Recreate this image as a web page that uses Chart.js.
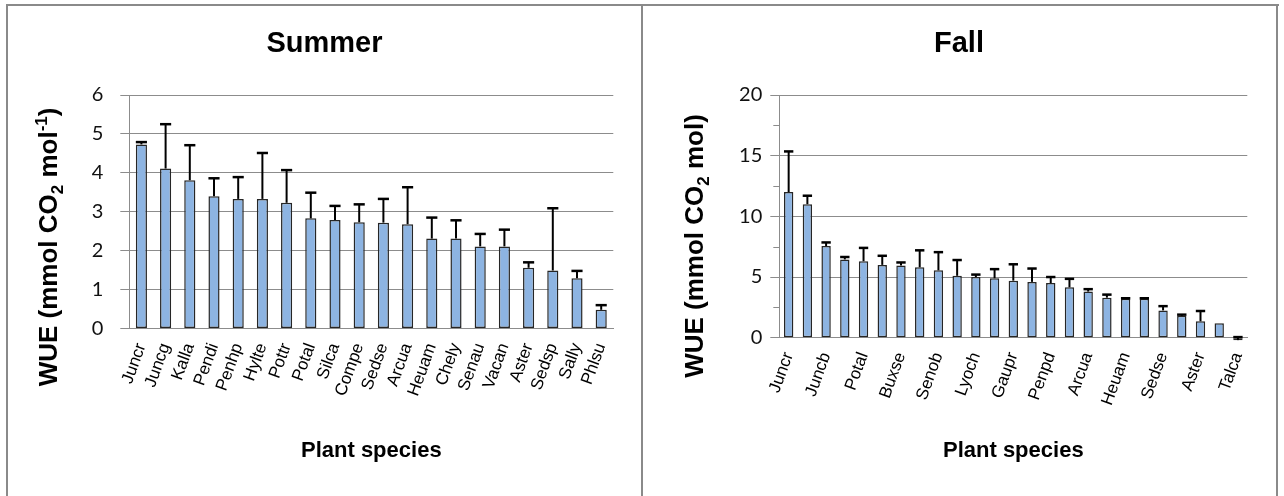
<!DOCTYPE html>
<html>
<head>
<meta charset="utf-8">
<script src="https://cdn.jsdelivr.net/npm/chart.js@4.4.1/dist/chart.umd.min.js"></script>
<style>
  html, body { margin: 0; padding: 0; background: #fff; }
  body { width: 1284px; height: 496px; position: relative; overflow: hidden; }
  .rule { position: absolute; background: #8a8a8a; }
  canvas { position: absolute; }
</style>
</head>
<body>
<div class="rule" style="left:6px;top:4px;width:1273px;height:2px"></div>
<div class="rule" style="left:6px;top:4px;width:2px;height:492px"></div>
<div class="rule" style="left:641px;top:4px;width:2px;height:492px"></div>
<div class="rule" style="left:1276px;top:4px;width:2px;height:492px"></div>
<canvas id="summer" width="633" height="490" style="left:8px;top:6px"></canvas>
<canvas id="fall" width="632" height="490" style="left:643px;top:6px"></canvas>
<script>
// Water-use efficiency per plant species, mean and upper error
const summerSpecies = ['Juncr','Juncg','Kalla','Pendi','Penhp','Hylte','Pottr','Potal','Silca','Compe',
                       'Sedse','Arcua','Heuam','Chely','Senau','Vacan','Aster','Sedsp','Sally','Phlsu'];
const summerWUE = [4.73, 4.11, 3.81, 3.40, 3.33, 3.33, 3.23, 2.83, 2.79, 2.73,
                   2.72, 2.68, 2.31, 2.31, 2.11, 2.11, 1.56, 1.49, 1.29, 0.48];
const summerErr = [0.06, 1.14, 0.90, 0.46, 0.56, 1.18, 0.84, 0.66, 0.36, 0.46,
                   0.61, 0.95, 0.54, 0.47, 0.32, 0.43, 0.14, 1.60, 0.19, 0.12];

// Fall: only every other species name is printed on the axis
const fallSpecies = ['Juncr','','Juncb','','Potal','','Buxse','','Senob','','Lyoch','','Gaupr','',
                     'Penpd','','Arcua','','Heuam','','Sedse','','Aster','','Talca'];
const fallWUE = [12.0, 11.0, 7.55, 6.45, 6.3, 6.0, 5.95, 5.8, 5.55, 5.1, 5.0, 4.9, 4.7,
                 4.6, 4.5, 4.15, 3.8, 3.3, 3.2, 3.2, 2.25, 1.8, 1.35, 1.2, -0.2];
const fallErr = [3.35, 0.7, 0.3, 0.2, 1.1, 0.75, 0.25, 1.4, 1.5, 1.3, 0.2, 0.75, 1.35,
                 1.1, 0.5, 0.7, 0.2, 0.25, 0.05, 0.05, 0.35, 0.1, 0.85, 0, 0.25];

const summerTicks = [0, 1, 2, 3, 4, 5, 6];
const fallTicks = [0, 5, 10, 15, 20];

const GRID = '#8c8c8c';
const BAR_FILL = '#8db4e2';
const BAR_EDGE = '#262626';

// Upward error bars with a cap as wide as the bar
const errorBars = {
  id: 'errorBars',
  afterDatasetsDraw(chart, args, opts) {
    const meta = chart.getDatasetMeta(0);
    const ys = chart.scales.y;
    const data = chart.data.datasets[0].data;
    const ctx = chart.ctx;
    ctx.save();
    ctx.strokeStyle = '#000';
    meta.data.forEach((bar, i) => {
      const e = opts.err[i];
      if (!e) return;
      const top = ys.getPixelForValue(data[i] + e);
      const half = bar.width / 2;
      ctx.lineWidth = 2;
      ctx.beginPath();
      ctx.moveTo(bar.x, bar.y);
      ctx.lineTo(bar.x, top);
      ctx.stroke();
      ctx.lineWidth = 2.5;
      ctx.beginPath();
      ctx.moveTo(bar.x - half, top);
      ctx.lineTo(bar.x + half, top);
      ctx.stroke();
    });
    ctx.restore();
  }
};

// Minor tick marks between labelled values
const minorTicks = {
  id: 'minorTicks',
  afterDraw(chart, args, opts) {
    if (!opts.step) return;
    const ys = chart.scales.y;
    const ctx = chart.ctx;
    const x = chart.chartArea.left;
    ctx.save();
    ctx.strokeStyle = GRID;
    ctx.lineWidth = 1;
    for (let v = ys.min + opts.step; v < ys.max; v += opts.step * 2) {
      const y = Math.round(ys.getPixelForValue(v)) + 0.5;
      ctx.beginPath();
      ctx.moveTo(x - opts.len, y);
      ctx.lineTo(x, y);
      ctx.stroke();
    }
    ctx.restore();
  }
};

// Draw a run of text pieces (with sub/superscripts) centred on (0,0)
function drawRich(ctx, pieces, size, family) {
  const parts = pieces.map(p => {
    const s = size * (p.scale || 1);
    ctx.font = 'bold ' + s + 'px ' + family;
    return { t: p.t, s, dy: (p.dy || 0) * size, w: ctx.measureText(p.t).width };
  });
  const total = parts.reduce((a, p) => a + p.w, 0);
  let x = -total / 2;
  ctx.textAlign = 'left';
  ctx.textBaseline = 'alphabetic';
  parts.forEach(p => {
    ctx.font = 'bold ' + p.s + 'px ' + family;
    ctx.fillText(p.t, x, 0.36 * size + p.dy);
    x += p.w;
  });
}

// Chart title, rotated y-axis title and x-axis title
const titles = {
  id: 'titles',
  afterDraw(chart, args, opts) {
    const ctx = chart.ctx;
    const area = chart.chartArea;
    const fam = '"Liberation Sans", Arial, sans-serif';
    ctx.save();
    ctx.fillStyle = '#000';
    ctx.font = 'bold ' + opts.titleSize + 'px ' + fam;
    ctx.textAlign = 'center';
    ctx.textBaseline = 'middle';
    ctx.fillText(opts.title, chart.width / 2, opts.titleY);

    ctx.font = 'bold 22px ' + fam;
    ctx.fillText('Plant species', (area.left + area.right) / 2, opts.xTitleY);

    ctx.translate(opts.yTitleX, opts.yTitleY);
    ctx.rotate(-Math.PI / 2);
    drawRich(ctx, opts.yTitle, 26, fam);
    ctx.restore();
  }
};

function makeChart(id, cfg) {
  return new Chart(document.getElementById(id), {
    type: 'bar',
    data: {
      labels: cfg.labels,
      datasets: [{
        data: cfg.values,
        backgroundColor: BAR_FILL,
        borderColor: BAR_EDGE,
        borderWidth: 1.5,
        borderSkipped: false,
        barPercentage: cfg.barPct,
        categoryPercentage: 1,
        clip: false
      }]
    },
    options: {
      responsive: false,
      animation: false,
      events: [],
      layout: { padding: cfg.padding },
      plugins: {
        legend: { display: false },
        tooltip: { enabled: false },
        errorBars: { err: cfg.err },
        minorTicks: cfg.minor,
        titles: cfg.titles
      },
      scales: {
        x: {
          grid: { display: false, drawTicks: false },
          border: { display: true, color: GRID, width: 1 },
          ticks: {
            autoSkip: false,
            maxRotation: 70,
            minRotation: 70,
            padding: 12,
            color: '#000',
            font: { family: '"Liberation Sans", Arial, sans-serif', size: 17 }
          },
          afterFit(scale) { scale.height = 100; }
        },
        y: {
          min: cfg.min,
          max: cfg.max,
          afterBuildTicks(scale) { scale.ticks = cfg.ticks.map(v => ({ value: v })); },
          grid: { color: GRID, lineWidth: 1, tickLength: 9, tickColor: GRID },
          border: { display: true, color: GRID, width: 1 },
          ticks: {
            padding: cfg.tickPad,
            color: '#111',
            font: { family: 'Lato, "Open Sans", sans-serif', size: 20 }
          },
          afterFit(scale) { scale.width = 40; }
        }
      }
    },
    plugins: [errorBars, minorTicks, titles]
  });
}

makeChart('summer', {
  labels: summerSpecies,
  values: summerWUE,
  err: summerErr,
  min: 0, max: 6,
  ticks: summerTicks,
  tickPad: 17,
  barPct: 0.46,
  padding: { left: 81.3, right: 27.7, top: 89, bottom: 67.5 },
  minor: { step: 0, len: 0 },
  titles: {
    title: 'Summer', titleSize: 29, titleY: 38,
    xTitleY: 445, yTitleX: 40, yTitleY: 241,
    yTitle: [
      { t: 'WUE (mmol CO' },
      { t: '2', scale: 0.65, dy: 0.22 },
      { t: ' mol' },
      { t: '-1', scale: 0.65, dy: -0.38 },
      { t: ')' }
    ]
  }
});

makeChart('fall', {
  labels: fallSpecies,
  values: fallWUE,
  err: fallErr,
  min: 0, max: 20,
  ticks: fallTicks,
  tickPad: 8,
  barPct: 0.5,
  padding: { left: 96.3, right: 27.7, top: 89, bottom: 58.3 },
  minor: { step: 2.5, len: 6 },
  titles: {
    title: 'Fall', titleSize: 29, titleY: 38,
    xTitleY: 445, yTitleX: 51, yTitleY: 240,
    yTitle: [
      { t: 'WUE (mmol CO' },
      { t: '2', scale: 0.65, dy: 0.22 },
      { t: ' mol)' }
    ]
  }
});
</script>
</body>
</html>
